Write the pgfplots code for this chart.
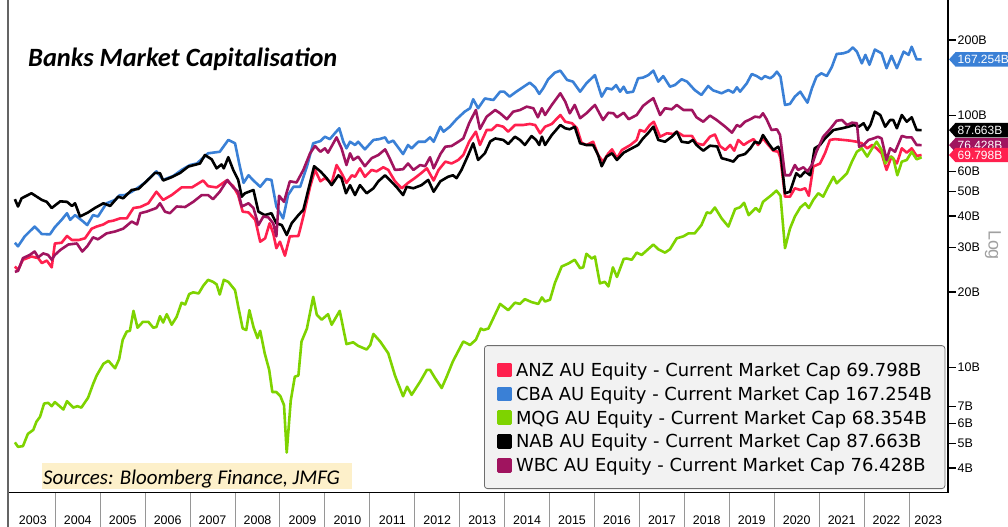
\documentclass[border=0pt]{standalone}
\usepackage{pgfplots}
\usepackage{pgfplotstable}
\pgfplotsset{compat=1.18}
\usepackage{fontspec}
\setmainfont{DejaVu Sans}
\newfontfamily\libsans{Liberation Sans}
\newfontfamily\carlito{Carlito}
\definecolor{anz}{RGB}{255,32,78}
\definecolor{cba}{RGB}{58,128,214}
\definecolor{mqg}{RGB}{126,211,0}
\definecolor{nab}{RGB}{0,0,0}
\definecolor{wbc}{RGB}{160,20,95}
\definecolor{legfill}{RGB}{242,242,242}
\definecolor{legdraw}{RGB}{110,110,110}
\definecolor{srcfill}{RGB}{253,240,202}
\definecolor{sepgray}{RGB}{150,150,150}

\pgfplotstableread{
t v
2003.10 25.2
2003.17 24.4
2003.28 26.8
2003.47 27.6
2003.62 27.2
2003.70 26.0
2003.81 26.6
2003.92 25.0
2003.99 31.1
2004.14 31.3
2004.26 33.3
2004.37 32.1
2004.52 32.1
2004.66 32.6
2004.81 35.6
2004.92 36.3
2005.07 37.0
2005.18 38.0
2005.29 38.3
2005.44 39.1
2005.59 39.1
2005.74 43.0
2005.89 43.4
2006.07 44.9
2006.25 49.9
2006.40 46.3
2006.59 48.4
2006.81 51.9
2007.04 51.9
2007.29 55.3
2007.40 52.5
2007.59 51.9
2007.81 55.3
2007.96 52.5
2008.07 48.4
2008.17 41.6
2008.30 41.3
2008.45 38.6
2008.56 31.6
2008.67 32.6
2008.77 37.4
2008.85 34.1
2008.92 29.8
2009.00 31.6
2009.11 27.8
2009.22 33.2
2009.41 33.3
2009.52 39.8
2009.67 52.2
2009.78 60.9
2009.90 54.9
2010.00 56.5
2010.15 54.1
2010.26 63.7
2010.37 59.1
2010.48 54.1
2010.60 58.0
2010.67 57.2
2010.78 61.8
2010.89 57.2
2011.04 60.9
2011.15 60.1
2011.30 62.4
2011.41 60.9
2011.56 54.9
2011.71 51.5
2011.85 54.1
2012.00 56.5
2012.15 59.3
2012.27 61.8
2012.42 55.3
2012.53 60.9
2012.68 65.7
2012.82 64.6
2012.97 66.7
2013.08 69.8
2013.21 78.8
2013.36 86.4
2013.45 76.5
2013.60 87.7
2013.71 87.7
2013.83 91.8
2013.97 90.4
2014.08 86.4
2014.23 91.8
2014.41 91.8
2014.56 92.7
2014.68 91.8
2014.79 85.1
2014.90 90.4
2015.05 92.7
2015.24 100.6
2015.35 94.6
2015.50 93.3
2015.61 89.1
2015.71 78.1
2015.82 76.5
2015.97 78.8
2016.08 69.8
2016.19 65.7
2016.31 70.9
2016.39 73.5
2016.50 67.8
2016.61 73.1
2016.80 76.5
2016.94 80.1
2017.01 87.7
2017.12 86.4
2017.23 91.8
2017.32 94.6
2017.46 82.5
2017.61 85.1
2017.76 84.6
2017.83 86.4
2017.98 83.1
2018.17 83.1
2018.27 77.7
2018.42 76.5
2018.57 82.5
2018.68 84.2
2018.79 75.8
2018.91 73.1
2019.02 76.5
2019.11 72.6
2019.20 80.1
2019.32 76.5
2019.43 78.8
2019.54 80.7
2019.64 76.5
2019.75 81.2
2019.87 76.5
2019.98 72.6
2020.09 71.9
2020.14 67.8
2020.24 47.7
2020.35 47.7
2020.46 51.5
2020.58 50.7
2020.69 51.5
2020.77 48.1
2020.87 62.8
2021.02 64.6
2021.13 70.9
2021.24 80.1
2021.35 80.7
2021.54 80.1
2021.69 79.6
2021.84 78.8
2021.95 77.7
2022.07 74.2
2022.18 76.5
2022.28 74.2
2022.39 70.9
2022.50 60.9
2022.61 68.8
2022.73 64.6
2022.84 74.2
2022.95 71.3
2023.06 74.2
2023.17 69.2
2023.28 69.798
}\tanz

\pgfplotstableread{
t v
2003.10 31.3
2003.17 30.3
2003.32 33.2
2003.54 36.3
2003.70 33.9
2003.88 33.8
2003.99 36.1
2004.14 38.6
2004.26 41.0
2004.33 38.6
2004.44 40.3
2004.62 38.0
2004.71 36.8
2004.84 40.3
2004.95 39.8
2005.14 44.9
2005.33 46.3
2005.44 48.4
2005.55 48.4
2005.70 49.9
2005.89 52.5
2006.03 54.9
2006.25 60.1
2006.40 55.6
2006.63 57.7
2006.81 60.9
2007.00 63.7
2007.15 64.6
2007.40 70.9
2007.66 71.9
2007.85 80.1
2008.00 77.7
2008.10 63.7
2008.19 54.1
2008.30 58.0
2008.41 55.3
2008.56 52.2
2008.70 56.0
2008.81 55.6
2008.92 43.6
2009.07 39.1
2009.18 48.4
2009.30 52.2
2009.45 52.2
2009.60 62.8
2009.74 77.7
2009.90 79.3
2010.00 82.5
2010.11 80.7
2010.22 85.1
2010.32 89.1
2010.41 78.8
2010.48 74.2
2010.56 78.8
2010.67 76.5
2010.74 78.8
2010.89 73.5
2011.08 80.1
2011.21 80.7
2011.34 82.0
2011.41 78.1
2011.52 79.6
2011.74 70.4
2011.85 76.5
2011.93 74.2
2012.08 78.8
2012.23 78.8
2012.34 82.0
2012.42 78.8
2012.57 90.4
2012.64 86.4
2012.78 90.4
2012.93 96.8
2013.11 103.7
2013.23 107.0
2013.30 116.2
2013.41 107.0
2013.56 117.0
2013.75 115.4
2013.90 124.5
2013.99 124.5
2014.11 119.0
2014.26 124.5
2014.45 131.2
2014.56 135.2
2014.68 129.6
2014.77 122.0
2014.86 128.5
2014.97 139.5
2015.12 148.2
2015.24 150.9
2015.39 138.6
2015.52 136.5
2015.68 124.5
2015.82 134.4
2016.01 144.9
2016.16 119.0
2016.27 128.5
2016.39 127.2
2016.48 132.3
2016.57 124.5
2016.65 130.3
2016.72 123.4
2016.86 124.5
2016.97 140.7
2017.08 141.6
2017.20 144.9
2017.31 150.9
2017.42 136.5
2017.53 143.6
2017.68 130.3
2017.79 132.3
2017.94 139.5
2018.06 136.5
2018.23 126.4
2018.38 120.8
2018.53 131.2
2018.64 126.0
2018.83 122.7
2018.98 126.4
2019.09 123.4
2019.17 129.6
2019.24 124.5
2019.39 134.4
2019.50 146.3
2019.61 143.6
2019.72 139.5
2019.79 143.6
2019.91 140.7
2019.98 143.6
2020.06 149.5
2020.14 142.7
2020.24 110.3
2020.35 111.3
2020.46 119.0
2020.58 124.5
2020.65 119.0
2020.74 112.6
2020.84 128.5
2020.94 142.7
2021.05 147.3
2021.17 143.6
2021.28 155.7
2021.39 175.8
2021.54 176.8
2021.65 179.5
2021.75 186.6
2021.84 179.5
2021.95 161.3
2022.03 174.3
2022.12 159.3
2022.24 183.0
2022.39 176.8
2022.50 154.3
2022.61 172.8
2022.73 154.3
2022.88 179.5
2022.99 174.3
2023.06 187.7
2023.17 167.3
2023.28 167.254
}\tcba

\pgfplotstableread{
t v
2003.10 5.05
2003.17 4.85
2003.28 4.88
2003.39 5.46
2003.51 5.66
2003.58 6.10
2003.66 6.38
2003.75 7.20
2003.84 7.25
2003.92 7.03
2003.99 7.30
2004.18 6.82
2004.26 7.36
2004.40 6.94
2004.49 7.03
2004.58 6.94
2004.73 7.60
2004.84 8.60
2004.92 9.30
2005.07 10.35
2005.18 10.65
2005.33 9.94
2005.42 10.80
2005.50 12.90
2005.59 13.90
2005.66 14.00
2005.74 16.80
2005.83 14.40
2005.95 15.20
2006.07 15.20
2006.18 14.40
2006.25 14.50
2006.33 16.00
2006.40 15.10
2006.48 16.30
2006.59 14.80
2006.70 15.90
2006.81 18.10
2006.89 17.80
2006.98 19.60
2007.07 19.90
2007.19 19.70
2007.29 21.10
2007.40 22.30
2007.51 21.90
2007.59 21.40
2007.66 19.50
2007.75 22.30
2007.85 21.90
2008.00 20.30
2008.07 17.50
2008.17 14.30
2008.25 14.10
2008.32 16.90
2008.41 14.50
2008.50 13.10
2008.56 14.00
2008.66 11.40
2008.76 9.80
2008.83 8.00
2008.92 8.00
2009.01 7.70
2009.09 7.10
2009.15 4.60
2009.24 7.40
2009.33 9.20
2009.41 9.30
2009.48 12.70
2009.60 14.30
2009.74 19.10
2009.82 16.20
2009.93 15.50
2010.07 16.30
2010.15 14.80
2010.33 16.80
2010.48 12.40
2010.63 12.60
2010.74 12.20
2010.93 11.80
2011.01 12.30
2011.08 13.60
2011.23 12.70
2011.41 11.40
2011.56 9.30
2011.74 7.70
2011.83 8.40
2011.93 7.80
2012.12 8.80
2012.27 9.80
2012.34 9.80
2012.45 9.10
2012.60 8.30
2012.71 9.20
2012.85 10.60
2013.08 12.70
2013.23 12.30
2013.36 12.90
2013.47 14.30
2013.53 14.10
2013.64 14.30
2013.90 17.90
2014.08 16.90
2014.23 18.10
2014.34 17.90
2014.45 18.70
2014.60 18.20
2014.75 17.90
2014.83 19.00
2014.90 18.30
2015.01 18.60
2015.12 21.70
2015.27 25.20
2015.42 25.90
2015.56 26.80
2015.68 24.80
2015.75 25.00
2015.82 28.30
2015.94 27.10
2016.01 27.60
2016.12 21.60
2016.23 21.90
2016.31 21.00
2016.41 25.00
2016.50 22.90
2016.65 27.00
2016.72 27.10
2016.83 26.80
2016.94 28.60
2017.05 28.00
2017.31 30.80
2017.42 29.50
2017.57 28.60
2017.68 29.50
2017.83 32.60
2017.98 33.20
2018.09 34.10
2018.23 34.10
2018.38 36.80
2018.50 41.30
2018.58 41.00
2018.68 43.20
2018.83 39.10
2018.98 36.30
2019.13 42.60
2019.24 43.30
2019.33 45.10
2019.43 40.30
2019.59 43.00
2019.67 41.60
2019.75 45.50
2019.94 48.40
2020.05 50.40
2020.14 48.10
2020.24 29.80
2020.35 35.60
2020.46 39.80
2020.58 43.20
2020.69 44.90
2020.77 43.00
2020.87 46.30
2020.98 49.20
2021.09 47.70
2021.20 52.20
2021.32 57.20
2021.39 53.90
2021.51 56.50
2021.62 59.10
2021.73 65.70
2021.84 71.90
2021.95 74.20
2022.07 68.80
2022.18 74.20
2022.28 78.80
2022.39 73.10
2022.47 64.60
2022.58 68.80
2022.65 67.80
2022.74 58.00
2022.84 65.70
2022.95 66.70
2023.06 71.90
2023.17 67.10
2023.28 68.354
}\tmqg

\pgfplotstableread{
t v
2003.10 46.6
2003.17 43.6
2003.25 47.0
2003.47 49.2
2003.70 46.3
2003.81 45.5
2003.92 43.0
2004.11 45.7
2004.26 45.5
2004.37 43.8
2004.44 44.9
2004.55 39.8
2004.73 41.3
2004.88 43.0
2005.07 44.9
2005.22 43.8
2005.40 47.7
2005.51 47.0
2005.70 50.7
2005.85 51.2
2006.03 54.9
2006.22 59.3
2006.33 59.1
2006.40 55.3
2006.59 57.0
2006.78 59.3
2006.96 62.8
2007.22 64.6
2007.33 69.8
2007.48 67.1
2007.59 61.8
2007.70 64.0
2007.75 61.8
2007.85 68.4
2007.96 60.9
2008.07 55.6
2008.15 47.7
2008.22 49.2
2008.41 50.7
2008.52 41.6
2008.66 40.3
2008.81 41.0
2008.92 37.4
2009.04 36.8
2009.15 33.6
2009.26 37.4
2009.41 40.3
2009.52 42.3
2009.63 50.7
2009.76 63.0
2009.90 60.1
2010.04 56.5
2010.15 53.0
2010.30 58.0
2010.37 56.5
2010.47 49.2
2010.56 53.0
2010.67 48.4
2010.78 53.0
2010.93 49.2
2011.08 51.5
2011.19 54.9
2011.34 58.0
2011.44 55.6
2011.59 52.2
2011.74 48.4
2011.82 52.2
2011.97 51.5
2012.15 53.0
2012.30 55.6
2012.42 49.9
2012.57 54.9
2012.74 57.2
2012.85 58.0
2012.93 56.5
2013.04 60.9
2013.19 69.8
2013.30 77.7
2013.41 66.7
2013.56 70.9
2013.68 79.0
2013.79 81.2
2013.97 80.1
2014.08 77.2
2014.23 82.5
2014.34 80.1
2014.45 76.5
2014.60 83.0
2014.70 80.1
2014.77 76.5
2014.83 82.5
2014.90 76.5
2015.05 83.8
2015.24 91.8
2015.35 89.1
2015.45 88.3
2015.56 90.4
2015.68 77.7
2015.82 76.5
2015.97 76.5
2016.08 69.8
2016.16 63.0
2016.27 68.8
2016.39 70.9
2016.50 66.7
2016.65 71.3
2016.83 74.2
2016.97 76.5
2017.08 81.2
2017.19 85.1
2017.31 90.4
2017.42 80.1
2017.57 78.8
2017.72 82.5
2017.83 86.4
2017.94 78.8
2018.09 78.1
2018.19 80.1
2018.27 76.5
2018.42 72.6
2018.57 76.0
2018.73 75.5
2018.83 67.8
2018.98 66.7
2019.09 65.7
2019.20 69.2
2019.35 70.4
2019.47 74.2
2019.57 78.8
2019.67 77.7
2019.75 83.8
2019.87 77.7
2019.98 73.1
2020.09 75.3
2020.14 71.9
2020.24 49.2
2020.35 49.9
2020.49 59.1
2020.58 57.2
2020.69 60.1
2020.80 58.0
2020.90 74.2
2021.02 76.5
2021.13 81.2
2021.32 87.7
2021.51 89.1
2021.65 90.4
2021.77 91.8
2021.88 90.4
2021.99 93.3
2022.07 87.7
2022.14 91.8
2022.24 103.7
2022.36 100.6
2022.47 90.4
2022.58 96.1
2022.65 96.1
2022.73 89.1
2022.84 100.6
2022.95 94.6
2023.06 98.5
2023.17 87.7
2023.28 87.663
}\tnab

\pgfplotstableread{
t v
2003.10 24.0
2003.17 24.2
2003.28 27.2
2003.43 28.0
2003.54 28.9
2003.62 27.4
2003.73 28.4
2003.84 28.0
2003.92 26.8
2003.99 28.0
2004.11 29.3
2004.29 30.8
2004.48 31.1
2004.60 28.9
2004.71 30.3
2004.84 32.9
2004.95 32.3
2005.14 34.1
2005.33 34.7
2005.51 35.6
2005.70 38.0
2005.82 37.0
2005.89 41.0
2006.03 41.6
2006.25 43.0
2006.33 44.9
2006.44 41.6
2006.55 41.0
2006.70 43.6
2006.89 43.4
2007.07 45.5
2007.26 48.4
2007.40 48.4
2007.51 46.6
2007.66 49.9
2007.83 55.6
2007.96 51.9
2008.07 49.9
2008.15 43.6
2008.30 44.9
2008.41 43.0
2008.52 36.8
2008.63 39.8
2008.74 39.5
2008.85 37.4
2008.92 33.2
2008.98 48.1
2009.09 45.5
2009.22 54.9
2009.37 54.3
2009.52 60.9
2009.67 70.9
2009.78 75.8
2009.90 71.9
2010.00 74.2
2010.07 71.3
2010.26 82.0
2010.37 74.2
2010.48 63.7
2010.56 70.9
2010.63 66.7
2010.74 68.8
2010.89 63.0
2011.04 67.8
2011.19 69.8
2011.34 73.5
2011.44 67.8
2011.56 60.9
2011.74 61.3
2011.85 64.6
2011.97 60.9
2012.12 63.7
2012.23 63.0
2012.34 68.4
2012.42 61.8
2012.57 70.4
2012.68 75.3
2012.82 75.8
2012.97 78.8
2013.08 81.2
2013.21 93.3
2013.36 105.3
2013.45 88.5
2013.60 99.1
2013.79 105.3
2013.90 102.2
2014.05 96.8
2014.19 103.7
2014.34 105.3
2014.49 108.6
2014.64 107.0
2014.74 98.5
2014.83 107.0
2014.90 100.6
2015.05 110.3
2015.24 122.7
2015.35 113.6
2015.45 102.2
2015.56 110.3
2015.68 97.7
2015.82 102.2
2016.01 110.3
2016.19 96.1
2016.31 102.7
2016.42 102.2
2016.50 98.5
2016.65 102.7
2016.76 96.8
2016.94 100.6
2017.08 109.3
2017.20 113.6
2017.31 117.3
2017.46 100.6
2017.57 107.0
2017.72 106.0
2017.83 110.3
2017.98 105.3
2018.17 105.3
2018.27 98.5
2018.42 94.6
2018.57 100.1
2018.72 96.1
2018.91 90.4
2019.06 85.6
2019.17 91.8
2019.24 90.4
2019.35 94.6
2019.47 96.8
2019.57 99.1
2019.68 98.5
2019.75 102.2
2019.83 96.8
2019.94 87.7
2020.06 88.3
2020.13 83.8
2020.24 58.0
2020.35 58.0
2020.46 63.7
2020.53 60.9
2020.65 62.4
2020.74 60.1
2020.84 63.7
2020.94 71.9
2021.09 82.5
2021.24 88.3
2021.39 95.5
2021.51 96.1
2021.62 91.8
2021.73 93.8
2021.84 93.3
2021.89 75.3
2021.99 76.5
2022.10 80.1
2022.21 81.2
2022.31 82.5
2022.39 81.2
2022.50 66.7
2022.58 74.2
2022.69 71.9
2022.84 83.1
2022.95 82.0
2023.06 82.0
2023.17 76.5
2023.28 76.428
}\twbc

\newcommand{\rtag}[3]{%
  \fill[#2] (#1) ++(1bp,0) -- ++(6.5bp,7.2bp) -- ++(62bp,0) -- ++(0,-14.4bp) -- ++(-62bp,0) -- cycle;
  \path (#1) ++(9.5bp,0) node[anchor=west, inner sep=0pt, text=white, font=\libsans\fontsize{12}{12}\selectfont] {#3};}

\begin{document}
\begin{tikzpicture}
\useasboundingbox (0,0) rectangle (1008bp,527bp);
\begin{axis}[
  at={(8bp,34bp)}, anchor=south west,
  scale only axis, width=940bp, height=493bp,
  xmin=2002.947, xmax=2023.868,
  ymode=log, ymin=3.18, ymax=287.8,
  clip=false,
  axis x line*=bottom, axis y line*=right,
  x axis line style={black, line width=1bp},
  y axis line style={black, line width=1.2bp},
  tick align=outside, major tick length=8bp,
  xtick={2003.5,2004.5,2005.5,2006.5,2007.5,2008.5,2009.5,2010.5,2011.5,2012.5,2013.5,2014.5,2015.5,2016.5,2017.5,2018.5,2019.5,2020.5,2021.5,2022.5,2023.43},
  xticklabels={2003,2004,2005,2006,2007,2008,2009,2010,2011,2012,2013,2014,2015,2016,2017,2018,2019,2020,2021,2022,2023},
  xtick style={draw=none},
  xticklabel style={font=\libsans\fontsize{12.5}{12.5}\selectfont, anchor=center, yshift=-19bp},
  ytick={4,5,6,7,10,20,30,40,50,60,100,200},
  yticklabels={4B,5B,6B,7B,10B,20B,30B,40B,50B,60B,100B,200B},
  ytick style={black, line width=1.6bp},
  yticklabel style={font=\libsans\fontsize{12.5}{12.5}\selectfont, inner sep=1.5bp},
  minor tick num=0,
  every axis plot/.append style={line width=2.6bp, line join=round, mark=none},
  legend style={
    at={(0.5064,0.0081)}, anchor=south west,
    fill=legfill, draw=legdraw, rounded corners=3bp, line width=0.8bp,
    font=\fontsize{18}{18}\selectfont,
    inner xsep=13bp, inner ysep=15.4bp,
    row sep=6.8bp, column sep=4bp,
    nodes={inner sep=0pt, text height=15.5bp, text depth=1.5bp},
  },
  legend cell align=left,
  legend image code/.code={\fill[#1, sharp corners] (0bp,-6.5bp) rectangle (12bp,5.5bp);},
]
\addplot[anz] table[x=t,y=v] {\tanz};
\addplot[cba] table[x=t,y=v] {\tcba};
\addplot[mqg] table[x=t,y=v] {\tmqg};
\addplot[nab] table[x=t,y=v] {\tnab};
\addplot[wbc] table[x=t,y=v] {\twbc};
\legend{ANZ AU Equity - Current Market Cap 69.798B,
        CBA AU Equity - Current Market Cap 167.254B,
        MQG AU Equity - Current Market Cap 68.354B,
        NAB AU Equity - Current Market Cap 87.663B,
        WBC AU Equity - Current Market Cap 76.428B}
\pgfplotsinvokeforeach{2004,2005,2006,2007,2008,2009,2010,2011,2012,2013,2014,2015,2016,2017,2018,2019,2020,2021,2022,2023}{
  \draw[sepgray, line width=1bp] (axis cs:#1,3.18) -- ([yshift=-34bp]axis cs:#1,3.18);
}
\coordinate (tANZ) at (axis cs:2023.868,69.798);
\coordinate (tCBA) at (axis cs:2023.868,167.254);
\coordinate (tNAB) at (axis cs:2023.868,87.663);
\coordinate (tWBC) at (axis cs:2023.868,76.428);
\end{axis}
% left frame line
\draw[color={rgb,255:red,100;green,100;blue,100}, line width=1.6bp] (8bp,0) -- (8bp,527bp);
% last-value tags
\rtag{tWBC}{wbc}{76.428B}
\rtag{tNAB}{nab}{87.663B}
\rtag{tANZ}{anz}{69.798B}
\rtag{tCBA}{cba}{167.254B}
% title
\node[anchor=base west, inner sep=0pt, font=\carlito\bfseries\itshape\fontsize{26.5}{26.5}\selectfont] at (28bp,460bp) {Banks Market Capitalisation};
% sources
\fill[srcfill] (42bp,38bp) rectangle (351.7bp,63.7bp);
\node[anchor=base west, inner sep=0pt, font=\carlito\itshape\fontsize{21}{21}\selectfont] at (43bp,42.7bp) {Sources: Bloomberg Finance, JMFG};
% log label
\node[rotate=-90, text={rgb,255:red,160;green,160;blue,160}, font=\libsans\fontsize{18}{18}\selectfont, inner sep=0pt] at (993bp,282bp) {Log};
\end{tikzpicture}
\end{document}
